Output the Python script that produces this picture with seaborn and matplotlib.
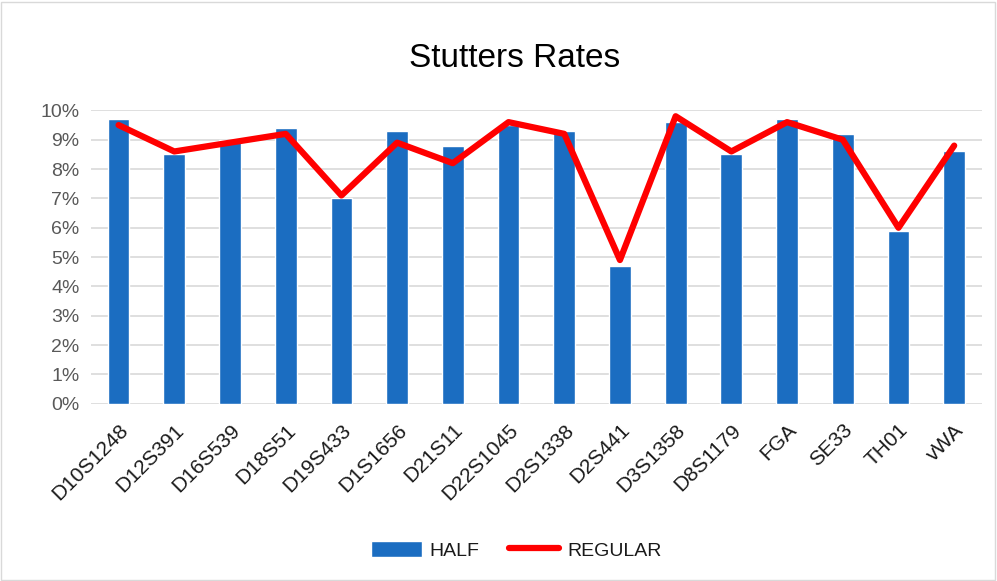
import numpy as np
import pandas as pd
import seaborn as sns
import matplotlib.pyplot as plt
from matplotlib.patches import Patch, Rectangle
from matplotlib.lines import Line2D
from matplotlib.ticker import PercentFormatter

# ---------- data ----------
loci = ["D10S1248", "D12S391", "D16S539", "D18S51", "D19S433", "D1S1656",
        "D21S11", "D22S1045", "D2S1338", "D2S441", "D3S1358", "D8S1179",
        "FGA", "SE33", "TH01", "vWA"]
half = [9.7, 8.5, 9.0, 9.4, 7.0, 9.3, 8.8, 9.5, 9.3, 4.7, 9.6, 8.5, 9.7, 9.2, 5.9, 8.6]
regular = [9.5, 8.6, 8.9, 9.2, 7.1, 8.9, 8.2, 9.6, 9.2, 4.9, 9.8, 8.6, 9.6, 9.0, 6.0, 8.8]

bar_color = "#1B6DC1"
line_color = "#FF0000"
text_gray = "#595959"
text_dark = "#1A1A1A"

df = pd.DataFrame({"locus": loci,
                   "half": np.array(half) / 100,
                   "regular": np.array(regular) / 100})

sns.set_style("white")
plt.rcParams["font.family"] = ["Liberation Sans", "DejaVu Sans"]

fig = plt.figure(figsize=(9.97, 5.81), dpi=100)
ax = fig.add_axes([0.091, 0.305, 0.894, 0.505])

# ---------- draw ----------
sns.barplot(data=df, x="locus", y="half", color=bar_color, width=0.39,
            saturation=1, ax=ax, zorder=2)
sns.lineplot(x=np.arange(len(loci)), y=df["regular"], color=line_color,
             linewidth=4.5, ax=ax, zorder=3)

ax.set_ylim(0, 0.10)
ax.set_xlim(-0.5, len(loci) - 0.5)
ax.set_yticks(np.arange(0, 0.101, 0.01))
ax.yaxis.set_major_formatter(PercentFormatter(1.0, decimals=0))
ax.grid(axis="y", color="#D9D9D9", linewidth=1.2, zorder=0)
ax.set_axisbelow(True)
for s in ax.spines.values():
    s.set_visible(False)
ax.tick_params(axis="both", length=0)
ax.tick_params(axis="y", pad=8, colors=text_gray, labelsize=14)
ax.tick_params(axis="x", pad=12, colors=text_dark, labelsize=15)
plt.setp(ax.get_xticklabels(), rotation=45, ha="right", rotation_mode="anchor")
ax.set_xlabel("")
ax.set_ylabel("")

fig.text(0.516, 0.9, "Stutters Rates", ha="center", va="center",
         fontsize=24, color="black")

handles = [Patch(facecolor=bar_color, label="HALF"),
           Line2D([0], [0], color=line_color, linewidth=4.5, label="REGULAR")]
fig.legend(handles=handles, loc="center", bbox_to_anchor=(0.518, 0.053),
           ncol=2, frameon=False, fontsize=14, handlelength=2.6, handleheight=0.9,
           columnspacing=1.5, handletextpad=0.4, labelcolor=text_dark)

# outer border
fig.patches.append(Rectangle((0.001, 0.002), 0.997, 0.995, transform=fig.transFigure,
                             fill=False, edgecolor="#D9D9D9", linewidth=1))

fig.savefig("out.png", dpi=100)
